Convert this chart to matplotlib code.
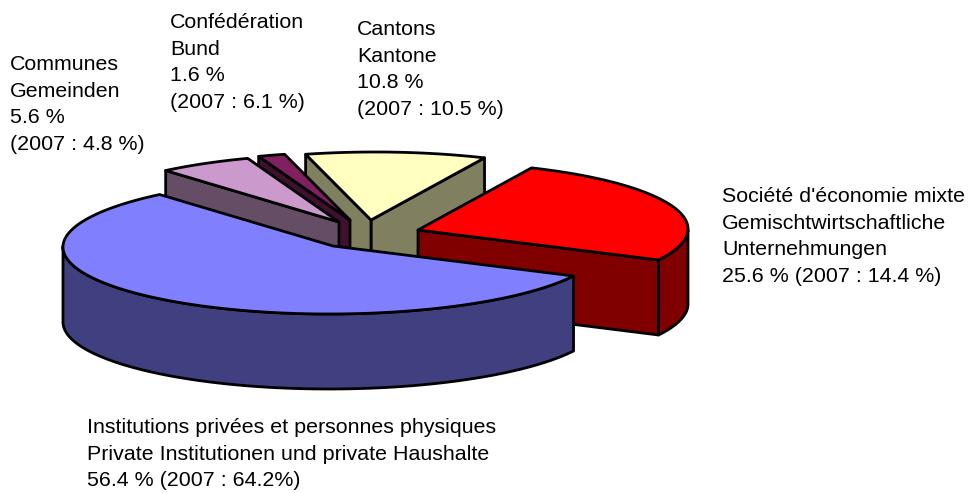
import numpy as np
import matplotlib
matplotlib.use("Agg")
import matplotlib.pyplot as plt
from matplotlib.patches import Polygon

plt.rcParams['font.family'] = ['Liberation Sans', 'DejaVu Sans']

# --- data (counter-clockwise, starting at the Cantons slice) ---
names = ['Cantons', 'Confederation', 'Communes', 'Institutions', 'Economie mixte']
shares = [10.8, 1.6, 5.6, 56.4, 25.6]
labels = [
    "Cantons\nKantone\n10.8 %\n(2007 : 10.5 %)",
    "Confédération\nBund\n1.6 %\n(2007 : 6.1 %)",
    "Communes\nGemeinden\n5.6 %\n(2007 : 4.8 %)",
    "Institutions privées et personnes physiques\nPrivate Institutionen und private Haushalte\n56.4 % (2007 : 64.2%)",
    "Société d'économie mixte\nGemischtwirtschaftliche\nUnternehmungen\n25.6 % (2007 : 14.4 %)",
]

# --- styling / layout ---
top_colors = ['#FFFFC0', '#802060', '#CC99CC', '#8080FF', '#FF0000']
side_colors = ['#808060', '#401030', '#664D66', '#404080', '#800000']
apex_x = [371, 350, 339, 333, 418]
apex_y = [220, 220, 222, 246, 230]
paint_rank = [0, 1, 2, 4, 3]   # back to front
label_x = [357, 170, 10, 87, 722]
label_y = [69.5, 62.5, 104.5, 454, 236.5]
START_ANGLE = 66
RX, RY, DEPTH = 270, 68, 75
SHEAR = 0.06
EDGE = 2.0

fig = plt.figure(figsize=(9.69, 4.93), dpi=100)
ax = fig.add_axes([0, 0, 1, 1])
ax.set_xlim(0, 969)
ax.set_ylim(493, 0)
ax.axis('off')


def rim(cx, cy, angles):
    t = np.radians(angles)
    s = RY * np.sin(t)
    return np.column_stack([cx + RX * np.cos(t) + SHEAR * s, cy - s])


def draw(points, color, z):
    ax.add_patch(Polygon(points, closed=True, facecolor=color, edgecolor='black',
                         linewidth=EDGE, joinstyle='round', zorder=z))


spans = np.array(shares) / sum(shares) * 360
starts = START_ANGLE + np.concatenate([[0], np.cumsum(spans)[:-1]])
drop = np.array([0, DEPTH])

for i, (start, span) in enumerate(zip(starts, spans)):
    end = start + span
    apex = np.array([apex_x[i], apex_y[i]], dtype=float)
    z = 2 + paint_rank[i] * 4
    # radial cut faces, drawn only when they turn towards the viewer
    for angle, normal in ((start, start - 90), (end, end + 90)):
        if np.sin(np.radians(normal)) < 0:
            p = rim(apex[0], apex[1], [angle])[0]
            draw([apex, p, p + drop, apex + drop], side_colors[i], z)
    # outer wall: the part of the rim on the near side
    a = np.linspace(start, end, 240)
    near = a[np.sin(np.radians(a)) < 0]
    if near.size:
        r = rim(apex[0], apex[1], near)
        draw(np.vstack([r, (r + drop)[::-1]]), side_colors[i], z + 1)
    # top face
    draw(np.vstack([apex, rim(apex[0], apex[1], a)]), top_colors[i], z + 2)

for text, x, y in zip(labels, label_x, label_y):
    ax.text(x, y, text, ha='left', va='center', multialignment='left',
            fontsize=15.4, linespacing=1.53, color='black', zorder=50)

fig.savefig('out.png', dpi=100)
